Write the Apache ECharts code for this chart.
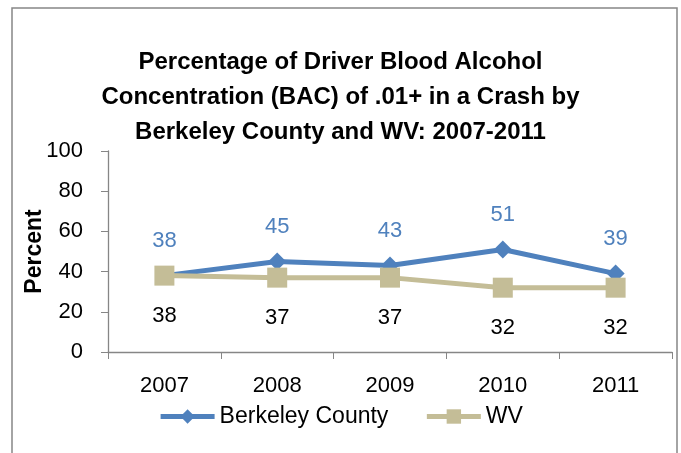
<!DOCTYPE html>
<html>
<head>
<meta charset="utf-8">
<script src="https://cdn.jsdelivr.net/npm/echarts@6/dist/echarts.min.js"></script>
<style>
  html, body { margin: 0; padding: 0; background: #fff; }
  #main { width: 681px; height: 453px; }
</style>
</head>
<body>
<div id="main"></div>
<script>
var years = ['2007', '2008', '2009', '2010', '2011'];
var berkeley = [38, 45, 43, 51, 39];
var wv = [38, 37, 37, 32, 32];
var yTicks = [0, 20, 40, 60, 80, 100];

var font = 'Liberation Sans';
var chart = echarts.init(document.getElementById('main'));

var option = {
    backgroundColor: '#fff',
    animation: false,
    title: {
        text: 'Percentage of Driver Blood Alcohol\nConcentration (BAC) of .01+ in a Crash by\nBerkeley County and WV: 2007-2011',
        left: 'center',
        top: 40,
        textStyle: {
            fontFamily: font,
            fontWeight: 'bold',
            fontSize: 24,
            lineHeight: 35,
            color: '#000'
        }
    },
    graphic: [{
        type: 'rect',
        shape: { x: 12, y: 8, width: 665, height: 470 },
        style: { fill: 'none', stroke: '#868686', lineWidth: 1.5 },
        silent: true
    }],
    legend: {
        bottom: 20,
        left: 'center',
        itemWidth: 54,
        itemHeight: 18,
        itemGap: 36,
        textStyle: { fontFamily: font, fontSize: 23, color: '#000' },
        data: [
            { name: 'Berkeley County', lineStyle: { width: 5 } },
            { name: 'WV', lineStyle: { width: 5 } }
        ]
    },
    grid: {
        left: 108,
        right: 9,
        top: 151,
        bottom: 101
    },
    xAxis: {
        type: 'category',
        data: years,
        boundaryGap: true,
        axisLine: { lineStyle: { color: '#868686', width: 1.3 } },
        axisTick: { show: true, length: 7, lineStyle: { color: '#868686' } },
        axisLabel: { fontFamily: font, fontSize: 22, color: '#000', margin: 23 }
    },
    yAxis: {
        type: 'value',
        min: yTicks[0],
        max: yTicks[yTicks.length - 1],
        interval: 20,
        name: 'Percent',
        nameLocation: 'middle',
        nameGap: 62,
        nameMoveOverlap: false,
        nameTextStyle: { fontFamily: font, fontSize: 23, fontWeight: 'bold', color: '#000' },
        axisLine: { show: true, lineStyle: { color: '#868686', width: 1.3 } },
        axisTick: { show: true, length: 7, lineStyle: { color: '#868686' } },
        splitLine: { show: false },
        axisLabel: { fontFamily: font, fontSize: 22, color: '#000', margin: 25 }
    },
    series: [
        {
            name: 'WV',
            type: 'line',
            data: wv,
            symbol: 'rect',
            symbolSize: 20,
            color: '#C4BD97',
            lineStyle: { width: 5, color: '#C4BD97' },
            itemStyle: { color: '#C4BD97' },
            label: {
                show: true,
                position: 'bottom',
                distance: 19,
                fontFamily: font,
                fontSize: 22,
                color: '#000'
            },
            z: 2
        },
        {
            name: 'Berkeley County',
            type: 'line',
            data: berkeley,
            symbol: 'diamond',
            symbolSize: 18,
            color: '#4F81BD',
            lineStyle: { width: 5, color: '#4F81BD' },
            itemStyle: { color: '#4F81BD' },
            label: {
                show: true,
                position: 'top',
                distance: 15,
                fontFamily: font,
                fontSize: 22,
                color: '#4F81BD'
            },
            z: 1
        }
    ]
};

chart.setOption(option);
</script>
</body>
</html>
